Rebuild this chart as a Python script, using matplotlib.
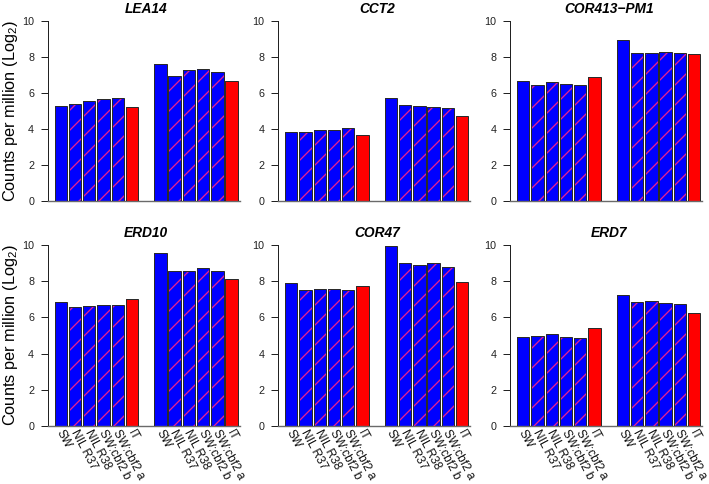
import matplotlib
matplotlib.use("Agg")
import matplotlib.pyplot as plt
import matplotlib.transforms as mtransforms
import numpy as np

DPI = 120
P = 72.0 / DPI  # points per pixel

plt.rcParams['font.family'] = ['Liberation Sans', 'DejaVu Sans']
plt.rcParams['mathtext.fontset'] = 'custom'
plt.rcParams['mathtext.rm'] = 'Liberation Sans'
plt.rcParams['mathtext.it'] = 'Liberation Sans:italic'
plt.rcParams['hatch.linewidth'] = 1.3 * P

genes = ["LEA14", "CCT2", "COR413\u2212PM1", "ERD10", "COR47", "ERD7"]
lines = ["SW", "NIL R37", "NIL R38", "SW:cbf2 b", "SW:cbf2 a", "IT"]

lea14 = [5.27, 5.40, 5.56, 5.66, 5.73, 5.23, 7.63, 6.97, 7.26, 7.34, 7.17, 6.67]
cct2 = [3.83, 3.83, 3.92, 3.96, 4.03, 3.68, 5.75, 5.34, 5.27, 5.25, 5.14, 4.73]
cor413 = [6.69, 6.47, 6.60, 6.49, 6.47, 6.89, 8.95, 8.21, 8.21, 8.28, 8.24, 8.15]
erd10 = [6.86, 6.57, 6.62, 6.70, 6.70, 6.99, 9.56, 8.56, 8.56, 8.71, 8.56, 8.12]
cor47 = [7.92, 7.51, 7.56, 7.56, 7.49, 7.71, 9.96, 9.02, 8.91, 9.02, 8.78, 7.95]
erd7 = [4.89, 5.00, 5.07, 4.89, 4.87, 5.39, 7.25, 6.86, 6.90, 6.81, 6.73, 6.22]
values = [lea14, cct2, cor413, erd10, cor47, erd7]

W, H = 709, 484
fig = plt.figure(figsize=(W / DPI, H / DPI), dpi=DPI)

col_left = [47.5, 278, 510]
row_top = [21, 245]
row_bot = [201, 426]
ax_w = 192

pos = np.concatenate([np.arange(6), np.arange(6) + 7])
bw = 0.87
face = ['#0000ff'] * 5 + ['#ff0000']
face = face + face
hatched = [False, True, True, True, True, False] * 2

for i, (gene, vals) in enumerate(zip(genes, values)):
    r, c = divmod(i, 3)
    left = col_left[c] / W
    bottom = (H - row_bot[r]) / H
    height = (row_bot[r] - row_top[r]) / H
    ax = fig.add_axes([left, bottom, ax_w / W, height])
    ax.bar(pos, vals, width=bw, color=face, edgecolor='none', linewidth=0, zorder=2)
    for p, v, h in zip(pos, vals, hatched):
        if h:
            ax.bar(p, v, width=bw, color='none', edgecolor='#e8208c', hatch='//',
                   linewidth=0, zorder=3)
    ax.bar(pos, vals, width=bw, color='none', edgecolor='#2a2a2a', linewidth=1.0 * P, zorder=4)
    ax.set_xlim(-0.93, 12.55)
    ax.set_ylim(0, 10)
    ax.spines['top'].set_visible(False)
    ax.spines['right'].set_visible(False)
    ax.spines['left'].set_color('#222222')
    ax.spines['left'].set_linewidth(1.0 * P)
    ax.spines['bottom'].set_color('#6a6a6a')
    ax.spines['bottom'].set_linewidth(1.4 * P)
    ax.set_yticks([0, 2, 4, 6, 8, 10])
    ax.tick_params(axis='y', length=7.5 * P, width=1.0 * P, labelsize=10.8 * P,
                   pad=6 * P, colors='#222222')
    ax.set_xticks([])
    if r == 1:
        off = mtransforms.ScaledTranslation(3.5 / DPI, -2 / DPI, fig.dpi_scale_trans)
        for p, lab in zip(pos, lines * 2):
            ax.text(p, 0, lab, rotation=-62, ha='left', va='top', rotation_mode='anchor',
                    fontsize=11.9 * P, color='#111111',
                    transform=ax.transData + off, clip_on=False)
    ax.text(6.0, 10.44, gene, ha='center', va='baseline', fontsize=13.8 * P,
            fontweight='bold', fontstyle='italic')
    if c == 0:
        yc = 1 - (row_top[r] + row_bot[r]) / 2 / H
        fig.text(0.5 / W, yc, r'Counts per million (Log$_2$)', rotation=90,
                 ha='left', va='center', fontsize=16.4 * P)

fig.savefig("out.png", dpi=DPI)
